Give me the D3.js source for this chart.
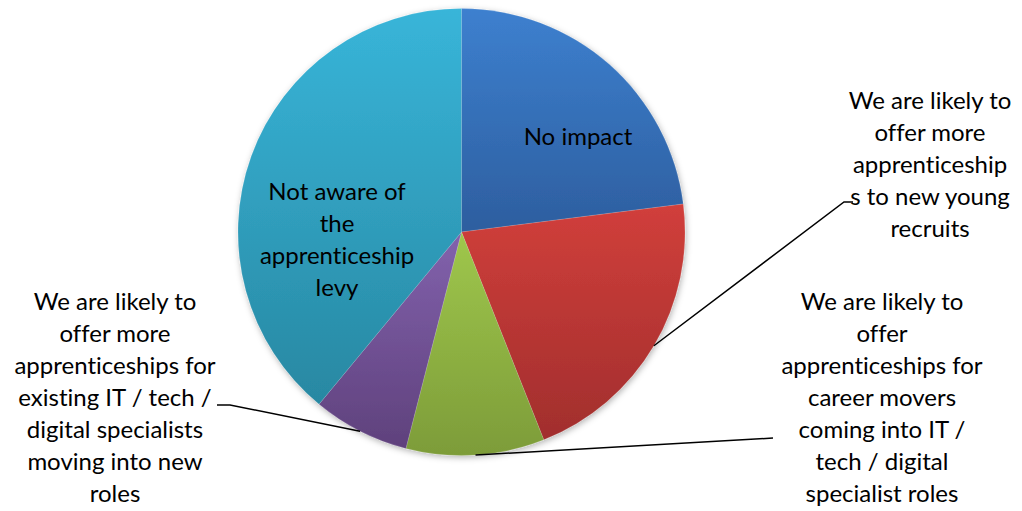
<!DOCTYPE html>
<html>
<head>
<meta charset="utf-8">
<script src="https://cdn.jsdelivr.net/npm/d3@7"></script>
<style>
  body { margin: 0; background: #fff; }
  svg { display: block; }
  text { font-family: Lato, "Open Sans", sans-serif; font-size: 24px; fill: #000;
         font-variant-ligatures: none; font-feature-settings: "liga" 0, "clig" 0; }
</style>
</head>
<body>
<div id="chart"></div>
<script>
// data (percent of respondents)
var categories = [
    "No impact",
    "We are likely to offer more apprenticeships to new young recruits",
    "We are likely to offer apprenticeships for career movers coming into IT / tech / digital specialist roles",
    "We are likely to offer more apprenticeships for existing IT / tech / digital specialists moving into new roles",
    "Not aware of the apprenticeship levy"
];
var values = [23, 21, 10, 7, 39];
// label lines as they wrap in the picture
var labelLines = [
    ["No impact"],
    ["We are likely to", "offer more", "apprenticeship", "s to new young", "recruits"],
    ["We are likely to", "offer", "apprenticeships for", "career movers", "coming into IT /", "tech / digital", "specialist roles"],
    ["We are likely to", "offer more", "apprenticeships for", "existing IT / tech /", "digital specialists", "moving into new", "roles"],
    ["Not aware of", "the", "apprenticeship", "levy"]
];
var colorsTop = ["#3d80cf", "#d13f3b", "#9fc74c", "#8262ad", "#38b5d9"];
var colorsBottom = ["#2d5e9f", "#a12e2d", "#7d9c39", "#5f417c", "#2888a2"];

var totalWidth = 1022,
    totalHeight = 511,
    cx = 461.5,
    cy = 232,
    radius = 223.5,
    lineHeight = 32;

// label layout: centre x and first baseline; leader elbow for outside labels
var labelLayout = [
    { x: 578, y: 145, inside: true },
    { x: 930, y: 109, elbow: [844, 202], end: [853, 202] },
    { x: 882, y: 310, elbow: null, end: [773, 438] },
    { x: 115, y: 310, elbow: [230, 405], end: [217, 405] },
    { x: 337, y: 200, inside: true }
];

var svg = d3.select("#chart").append("svg")
    .attr("width", totalWidth)
    .attr("height", totalHeight);

var defs = svg.append("defs");

var shadow = defs.append("filter")
    .attr("id", "shadow")
    .attr("x", "-10%").attr("y", "-10%")
    .attr("width", "120%").attr("height", "120%");
shadow.append("feDropShadow")
    .attr("dx", 1).attr("dy", 2)
    .attr("stdDeviation", 3)
    .attr("flood-color", "#000")
    .attr("flood-opacity", 0.3);

values.forEach(function(v, i) {
    var grad = defs.append("linearGradient")
        .attr("id", "grad" + i)
        .attr("x1", 0).attr("y1", 0)
        .attr("x2", 0).attr("y2", 1);
    grad.append("stop").attr("offset", "0%").attr("stop-color", colorsTop[i]);
    grad.append("stop").attr("offset", "100%").attr("stop-color", colorsBottom[i]);
});

var pie = d3.pie()
    .sort(null)
    .value(function(d) { return d; });

var arcs = pie(values);

var arc = d3.arc()
    .innerRadius(0)
    .outerRadius(radius);

var g = svg.append("g")
    .attr("transform", "translate(" + cx + "," + cy + ")");

g.append("g")
    .attr("filter", "url(#shadow)")
    .selectAll("path")
    .data(arcs)
    .enter().append("path")
    .attr("d", arc)
    .attr("fill", function(d, i) { return "url(#grad" + i + ")"; })
    .attr("stroke", "rgba(255,255,255,0.25)")
    .attr("stroke-width", 0.5);

// leader lines from the slice edge midpoint
arcs.forEach(function(d, i) {
    var lay = labelLayout[i];
    if (lay.inside) return;
    var mid = (d.startAngle + d.endAngle) / 2;
    var p0 = [cx + radius * Math.sin(mid), cy - radius * Math.cos(mid)];
    var pts = [p0];
    if (lay.elbow) pts.push(lay.elbow);
    pts.push(lay.end);
    svg.append("path")
        .attr("d", d3.line()(pts))
        .attr("fill", "none")
        .attr("stroke", "#000")
        .attr("stroke-width", 1.5);
});

// labels
labelLines.forEach(function(lines, i) {
    var lay = labelLayout[i];
    var t = svg.append("text")
        .attr("text-anchor", "middle");
    lines.forEach(function(line, j) {
        t.append("tspan")
            .attr("x", lay.x)
            .attr("y", lay.y + j * lineHeight)
            .text(line);
    });
});
</script>
</body>
</html>
